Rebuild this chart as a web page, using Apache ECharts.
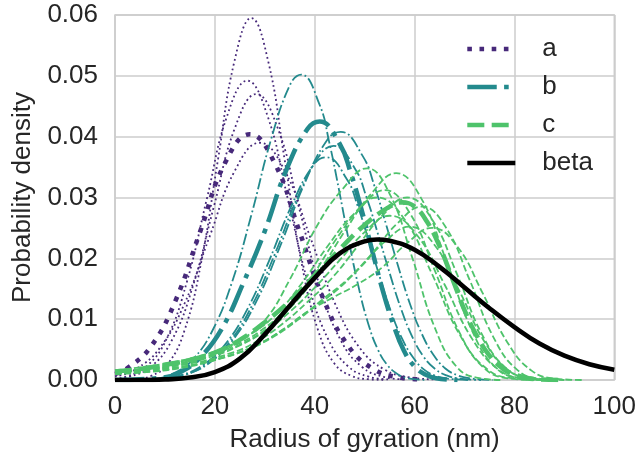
<!DOCTYPE html>
<html><head><meta charset="utf-8">
<script src="https://cdn.jsdelivr.net/npm/echarts@6.0.0/dist/echarts.min.js"></script>
<style>html,body{margin:0;padding:0;background:#fff}#c{width:639px;height:462px}</style>
</head><body><div id="c"></div>
<script>
// group a (purple, dotted)
const a1 = [[0.5,0.00002],[3.85,0.00013],[7.2,0.00066],[10.55,0.0026],[13.9,0.0081],[17.25,0.0193],[20.6,0.0361],[23.95,0.0525],[27.3,0.0595],[30.65,0.0525],[34,0.0361],[37.35,0.0193],[40.7,0.0081],[44.05,0.0026],[47.4,0.00066],[50.75,0.00013],[54.1,0.00002]];
const a2 = [[0,0.0002],[2.2,0.00055],[6.25,0.0022],[10.3,0.0067],[14.35,0.016],[18.4,0.0298],[22.45,0.0434],[26.5,0.0492],[30.55,0.0434],[34.6,0.0298],[38.65,0.016],[42.7,0.0067],[46.75,0.0022],[50.8,0.00055],[54.85,0.0001]];
const a3 = [[0,0.00018],[2.8,0.00052],[7.05,0.0021],[11.3,0.0064],[15.55,0.0153],[19.8,0.0285],[24.05,0.0415],[28.3,0.047],[32.55,0.0415],[36.8,0.0285],[41.05,0.0153],[45.3,0.0064],[49.55,0.0021],[53.8,0.00052],[58.05,0.0001]];
const a4 = [[0,0.00058],[4,0.0017],[9,0.0053],[14,0.0127],[19,0.0237],[24,0.0344],[29,0.039],[34,0.0344],[39,0.0237],[44,0.0127],[49,0.0053],[54,0.0017],[59,0.00043],[64,0.0001]];
const aMain = [[0,0.001],[2.25,0.0018],[7.2,0.0055],[12.15,0.0131],[17.1,0.0245],[22.05,0.0357],[27,0.0404],[31.95,0.0357],[36.9,0.0245],[41.85,0.0131],[46.8,0.0055],[51.75,0.0018],[56.7,0.00045],[61.65,0.0001]];
// group b (teal, dash-dot)
const b1 = [[0,0],[7.8,0.0002],[11.7,0.0011],[15.6,0.0034],[19.5,0.0081],[23.4,0.016],[27.3,0.0271],[31.2,0.0394],[35.1,0.0486],[37.3,0.0502],[40.95,0.0453],[42.9,0.0391],[44.85,0.0313],[46.8,0.023],[48.75,0.0154],[50.7,0.0093],[52.65,0.005],[54.6,0.0024],[56.55,0.001],[58.5,0.0003],[62.4,0]];
const b2 = [[0,0],[9.45,0.0002],[14.18,0.0009],[18.9,0.0028],[23.63,0.0066],[28.36,0.013],[33.08,0.022],[37.81,0.032],[42.53,0.0395],[45.2,0.0408],[49.62,0.0368],[51.99,0.0318],[54.35,0.0254],[56.71,0.0187],[59.08,0.0125],[61.44,0.0076],[63.8,0.0041],[66.16,0.0019],[68.53,0.0008],[70.89,0.0003],[75.6,0]];
const b3 = [[0,0],[8.85,0.00016],[13.27,0.0008],[17.69,0.0025],[22.12,0.0059],[26.54,0.0117],[30.96,0.0198],[35.38,0.0287],[39.81,0.0354],[42.3,0.0366],[46.44,0.033],[48.65,0.0285],[50.86,0.0228],[53.08,0.0168],[55.29,0.0112],[57.5,0.0068],[59.71,0.0037],[61.92,0.0017],[64.13,0.0007],[66.35,0.00025],[70.8,0]];
const b4 = [[0,0],[9.16,0.00017],[13.74,0.0008],[18.32,0.0026],[22.9,0.0062],[27.48,0.0123],[32.06,0.0208],[36.64,0.0302],[41.22,0.0372],[43.8,0.0385],[48.09,0.0347],[50.38,0.03],[52.67,0.024],[54.96,0.0177],[57.25,0.0118],[59.54,0.0071],[61.83,0.0038],[64.12,0.0018],[66.41,0.00075],[68.7,0.00026],[73.3,0]];
const bMain = [[0,0],[8.57,0.0003],[12.86,0.0012],[17.15,0.0038],[21.44,0.0085],[25.72,0.016],[30.01,0.0245],[34.3,0.0345],[38.58,0.0413],[41,0.0425],[45.01,0.0388],[47.16,0.0342],[49.3,0.0282],[51.44,0.0215],[53.59,0.0148],[55.73,0.0092],[57.87,0.0048],[60.02,0.0022],[62.16,0.0009],[64.31,0.0003],[68.59,0]];
// group c (green, dashed)
const c1 = [[0,0.0016],[10,0.0027],[20,0.0047],[25,0.0065],[30,0.0098],[35,0.0165],[40.5,0.0254],[45.5,0.0313],[50.5,0.0348],[55,0.0306],[59.5,0.0202],[64,0.0087],[68.5,0.0021],[73,0.0003],[77.5,0]];
const c2 = [[0,0.0013],[10,0.0022],[20,0.0042],[25,0.0058],[30,0.0082],[35,0.0118],[40,0.0168],[46.3,0.0248],[51.3,0.0306],[56.3,0.034],[61.3,0.0299],[66.3,0.0197],[71.3,0.0085],[76.3,0.002],[81.3,0.0003],[86.3,0]];
const c3 = [[0,0.0012],[10,0.0023],[19,0.0041],[24,0.0057],[29,0.008],[34,0.0115],[39,0.0165],[44,0.0228],[49,0.0281],[54,0.0312],[59,0.0275],[64,0.0181],[69,0.0078],[74,0.0019],[79,0.00025],[84,0]];
const c4 = [[0,0.0011],[15,0.0027],[23.5,0.0045],[28.5,0.0064],[33.5,0.0092],[38.5,0.0128],[43.5,0.0168],[48.5,0.0219],[53.5,0.027],[58.5,0.03],[63.5,0.0264],[68.5,0.0174],[73.5,0.0075],[78.5,0.0018],[83.5,0.00024],[88.5,0]];
const c5 = [[0,0.001],[15,0.0024],[24,0.0043],[29,0.006],[34,0.0085],[39,0.0115],[44,0.0145],[49,0.0184],[54,0.0227],[59,0.0252],[64,0.0222],[69,0.0146],[74,0.0063],[79,0.0015],[84,0.0002],[89,0]];
const c6 = [[0,0.001],[10,0.0017],[20,0.0033],[26.5,0.005],[31.5,0.007],[36.5,0.0098],[41.5,0.0132],[46.5,0.0165],[51.5,0.0208],[56.5,0.0257],[61.5,0.0285],[66.25,0.0251],[71,0.0165],[75.75,0.0071],[80.5,0.0017],[85.25,0.0002],[90,0]];
const c7 = [[0,0.0011],[10,0.002],[20,0.004],[25,0.0057],[30,0.008],[35,0.0112],[40,0.0152],[45,0.0197],[50,0.0243],[55,0.027],[60.5,0.0238],[66,0.0157],[71.5,0.0068],[77,0.0016],[82.5,0.0002],[88,0]];
const c8 = [[0,0.001],[12,0.0018],[22,0.0038],[28.5,0.0058],[33.5,0.0082],[38.5,0.0112],[43.5,0.0135],[48.5,0.0157],[53.5,0.0185],[58.5,0.0225],[63.5,0.025],[68.5,0.022],[73.5,0.0145],[78.5,0.0063],[83.5,0.0015],[88.5,0.0002],[93.5,0]];
const c9 = [[0,0.0012],[5,0.0018],[15,0.0034],[22.5,0.0055],[27.5,0.0077],[32.5,0.011],[37.5,0.016],[42.5,0.0219],[47.5,0.027],[52.5,0.03],[58,0.0264],[63.5,0.0174],[69,0.0075],[74.5,0.0018],[80,0.00024],[85.5,0]];
const cMain = [[0,0.0014],[5,0.0018],[10,0.0025],[15,0.0033],[20,0.0045],[25,0.0066],[30,0.0095],[35,0.013],[40,0.0172],[45,0.0215],[50,0.0255],[55,0.0285],[57.5,0.0292],[60,0.0285],[62.5,0.026],[65,0.022],[67.5,0.0168],[70,0.0115],[72.5,0.0072],[75,0.004],[77.5,0.002],[80,0.0009],[85,0.0001],[90,0]];
// beta (black)
const beta = [[0,0],[5,0],[10,0.0001],[15,0.0004],[20,0.0013],[25,0.0035],[30,0.0075],[35,0.0122],[40,0.0168],[45,0.0208],[50,0.0228],[52.5,0.0231],[55,0.0229],[60,0.0214],[65,0.0186],[70,0.0152],[75,0.0118],[80,0.0087],[85,0.006],[90,0.004],[95,0.0026],[100,0.0017]];

const legendNames = ['a','b','c','beta'];
const colA = '#47297a', colB = '#238a8d', colC = '#4ec36b', colBeta = '#000000';
const thin = 1.8, thick = 4.6;
const dotT = [thin, thin*1.65], dotK = [thick, thick*1.65];
const dashdotT = [thin*6.4, thin*1.6, thin, thin*1.6], dashdotK = [thick*6.4, thick*1.6, thick, thick*1.6];
const dashT = [thin*3.7, thin*1.6], dashK = [thick*3.7, thick*1.6];

function mk(name, data, color, width, type, z) {
  return {name, type:'line', data, symbol:'none', showSymbol:false, smooth:0.45,
    clip:true, z, silent:true, animation:false,
    lineStyle:{color, width, type, cap:'butt', join:'round'}, itemStyle:{color}};
}
const series = [
  mk('a1', a1, colA, thin, dotT, 2), mk('a2', a2, colA, thin, dotT, 2), mk('a3', a3, colA, thin, dotT, 2), mk('a4', a4, colA, thin, dotT, 2),
  mk('a', aMain, colA, thick, dotK, 3),
  mk('b1', b1, colB, thin, dashdotT, 4), mk('b2', b2, colB, thin, dashdotT, 4), mk('b3', b3, colB, thin, dashdotT, 4), mk('b4', b4, colB, thin, dashdotT, 4),
  mk('b', bMain, colB, thick, dashdotK, 5),
  mk('c1', c1, colC, thin, dashT, 6), mk('c2', c2, colC, thin, dashT, 6), mk('c3', c3, colC, thin, dashT, 6), mk('c4', c4, colC, thin, dashT, 6),
  mk('c5', c5, colC, thin, dashT, 6), mk('c6', c6, colC, thin, dashT, 6), mk('c7', c7, colC, thin, dashT, 6), mk('c8', c8, colC, thin, dashT, 6), mk('c9', c9, colC, thin, dashT, 6),
  mk('c', cMain, colC, thick, dashK, 7),
  mk('beta', beta, colBeta, thick, 'solid', 8)
];
const font = '"Liberation Sans", Arial, sans-serif';
const txt = '#262626';
const fs = 26;
const chart = echarts.init(document.getElementById('c'), null, {renderer:'canvas'});
chart.setOption({
  animation:false,
  backgroundColor:'#ffffff',
  grid:{left:115, right:24, top:15, bottom:82, show:true, borderColor:'#cccccc', borderWidth:1.5, backgroundColor:'transparent', containLabel:false},
  legend:{data:legendNames, orient:'vertical', left:465, top:36, padding:0, itemWidth:48, itemHeight:14, itemGap:12,
    lineStyle:{width:thick}, itemStyle:{opacity:0},
    textStyle:{fontFamily:font, fontSize:fs, color:txt, padding:[0,0,0,22], lineHeight:26}, selectedMode:false},
  xAxis:{type:'value', min:0, max:100, interval:20, name:'Radius of gyration (nm)', nameLocation:'middle', nameGap:47,
    nameTextStyle:{fontFamily:font, fontSize:fs, color:txt},
    axisLine:{show:false}, axisTick:{show:false},
    axisLabel:{fontFamily:font, fontSize:fs, color:txt, margin:14},
    splitLine:{show:true, lineStyle:{color:'#cccccc', width:1.5}}},
  yAxis:{type:'value', min:0, max:0.06, interval:0.01, name:'Probability density', nameLocation:'middle', nameGap:79,
    nameTextStyle:{fontFamily:font, fontSize:fs, color:txt},
    axisLine:{show:false}, axisTick:{show:false},
    axisLabel:{fontFamily:font, fontSize:fs, color:txt, margin:17, formatter:v=>v.toFixed(2)},
    splitLine:{show:true, lineStyle:{color:'#cccccc', width:1.5}}},
  series
});
</script></body></html>
